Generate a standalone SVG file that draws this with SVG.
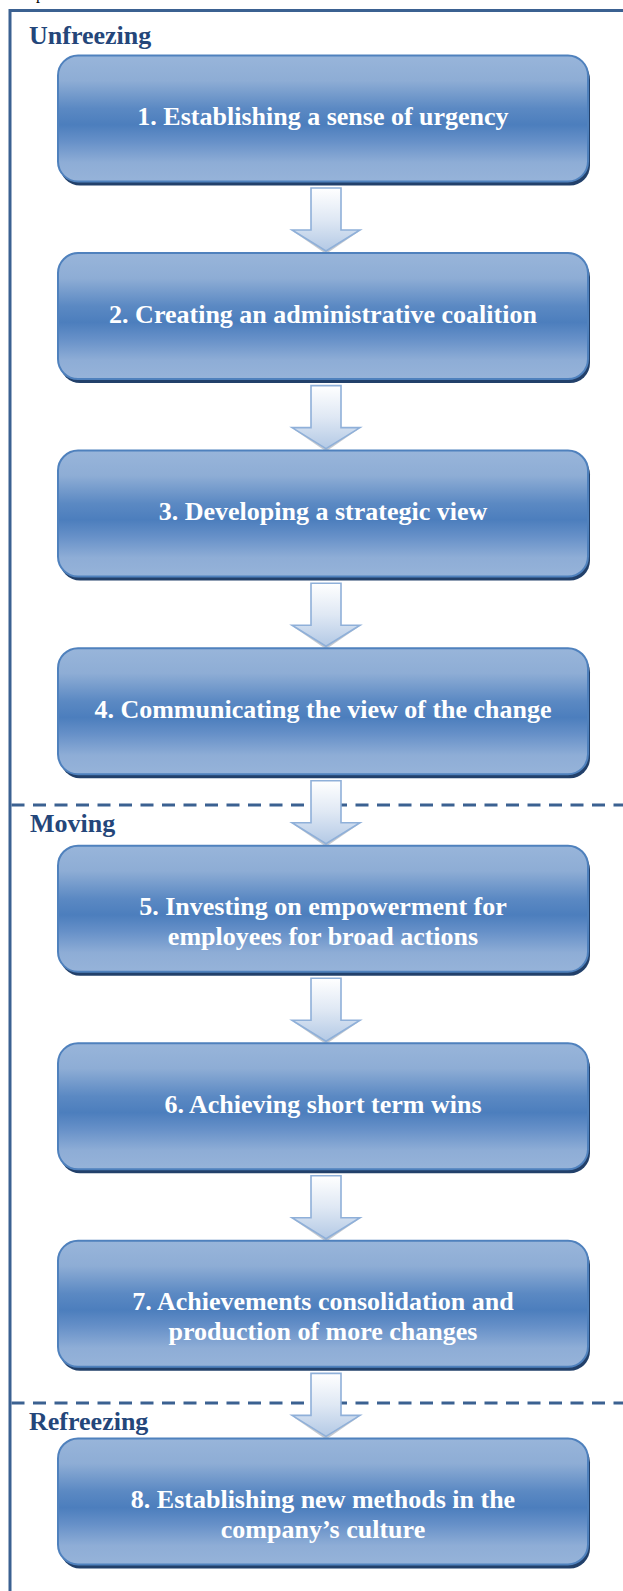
<svg xmlns="http://www.w3.org/2000/svg" width="623" height="1591" viewBox="0 0 623 1591">
  <defs>
    <linearGradient id="boxGrad" x1="0" y1="0" x2="0" y2="1">
      <stop offset="0" stop-color="#98b5da"/>
      <stop offset="0.2" stop-color="#8eadd5"/>
      <stop offset="0.42" stop-color="#5b89c3"/>
      <stop offset="0.55" stop-color="#4c7ebd"/>
      <stop offset="0.68" stop-color="#6690c8"/>
      <stop offset="0.85" stop-color="#8eadd6"/>
      <stop offset="1" stop-color="#96b3d9"/>
    </linearGradient>
    <linearGradient id="arrowGrad" x1="0" y1="0" x2="0" y2="1">
      <stop offset="0" stop-color="#ffffff"/>
      <stop offset="0.5" stop-color="#dfe8f4"/>
      <stop offset="1" stop-color="#b3c9e5"/>
    </linearGradient>
    <g id="arrow">
      <polygon points="-32,44 0,66 32,44" fill="#7d8796" opacity="0.45"/>
      <polygon points="-15,0 15,0 15,42 34,42 0,63 -34,42 -15,42" fill="url(#arrowGrad)" stroke="#8fb0d9" stroke-width="1.6" stroke-linejoin="miter"/>
    </g>
  </defs>
  <style>
    .frame { fill: none; stroke: #3b6191; stroke-width: 3; }
    .phase-sep { stroke: #3b6191; stroke-width: 3; stroke-dasharray: 13 8.5; fill: none; }
    .phase { font-family: "Liberation Serif", "Times New Roman", serif; font-weight: bold; font-size: 26px; fill: #24467a; }
    .shadow { fill: #22406a; }
    .box { fill: url(#boxGrad); stroke: #4f81bd; stroke-width: 2; }
    .label { font-family: "Liberation Serif", "Times New Roman", serif; font-weight: bold; font-size: 26px; fill: #ffffff; text-anchor: middle; }
    .cut { font-family: "Liberation Serif", "Times New Roman", serif; font-size: 16px; fill: #000000; }
  </style>

  <text class="cut" x="36" y="-1.5">p</text>

  <rect class="frame" x="10" y="10.5" width="800" height="1700"/>

  <g id="phases">
    <line class="phase-sep" x1="11.5" y1="805" x2="623" y2="805"/>
    <line class="phase-sep" x1="11.5" y1="1403" x2="623" y2="1403"/>
    <text class="phase" x="29" y="44">Unfreezing</text>
    <text class="phase" x="30" y="832">Moving</text>
    <text class="phase" x="29" y="1430">Refreezing</text>
  </g>

  <g id="connectors">
    <use href="#arrow" x="326" y="188"/>
    <use href="#arrow" x="326" y="385.6"/>
    <use href="#arrow" x="326" y="583.2"/>
    <use href="#arrow" x="326" y="780.7"/>
    <use href="#arrow" x="326" y="978.3"/>
    <use href="#arrow" x="326" y="1175.8"/>
    <use href="#arrow" x="326" y="1373.4"/>
  </g>

  <g id="node1">
    <rect class="shadow" x="60" y="59.5" width="530" height="126" rx="20"/>
    <rect class="box" x="58" y="55.5" width="530" height="126" rx="20"/>
    <text class="label" x="323" y="125">1. Establishing a sense of urgency</text>
  </g>
  <g id="node2">
    <rect class="shadow" x="60" y="257.1" width="530" height="126" rx="20"/>
    <rect class="box" x="58" y="253.1" width="530" height="126" rx="20"/>
    <text class="label" x="323" y="322.6">2. Creating an administrative coalition</text>
  </g>
  <g id="node3">
    <rect class="shadow" x="60" y="454.6" width="530" height="126" rx="20"/>
    <rect class="box" x="58" y="450.6" width="530" height="126" rx="20"/>
    <text class="label" x="323" y="520.1">3. Developing a strategic view</text>
  </g>
  <g id="node4">
    <rect class="shadow" x="60" y="652.2" width="530" height="126" rx="20"/>
    <rect class="box" x="58" y="648.2" width="530" height="126" rx="20"/>
    <text class="label" x="323" y="717.7">4. Communicating the view of the change</text>
  </g>
  <g id="node5">
    <rect class="shadow" x="60" y="849.7" width="530" height="126" rx="20"/>
    <rect class="box" x="58" y="845.7" width="530" height="126" rx="20"/>
    <text class="label" x="323" y="914.5">5. Investing on empowerment for</text>
    <text class="label" x="323" y="944.5">employees for broad actions</text>
  </g>
  <g id="node6">
    <rect class="shadow" x="60" y="1047.3" width="530" height="126" rx="20"/>
    <rect class="box" x="58" y="1043.3" width="530" height="126" rx="20"/>
    <text class="label" x="323" y="1112.8">6. Achieving short term wins</text>
  </g>
  <g id="node7">
    <rect class="shadow" x="60" y="1244.8" width="530" height="126" rx="20"/>
    <rect class="box" x="58" y="1240.8" width="530" height="126" rx="20"/>
    <text class="label" x="323" y="1310">7. Achievements consolidation and</text>
    <text class="label" x="323" y="1340">production of more changes</text>
  </g>
  <g id="node8">
    <rect class="shadow" x="60" y="1442.4" width="530" height="126" rx="20"/>
    <rect class="box" x="58" y="1438.4" width="530" height="126" rx="20"/>
    <text class="label" x="323" y="1507.5">8. Establishing new methods in the</text>
    <text class="label" x="323" y="1537.5">company’s culture</text>
  </g>
</svg>
